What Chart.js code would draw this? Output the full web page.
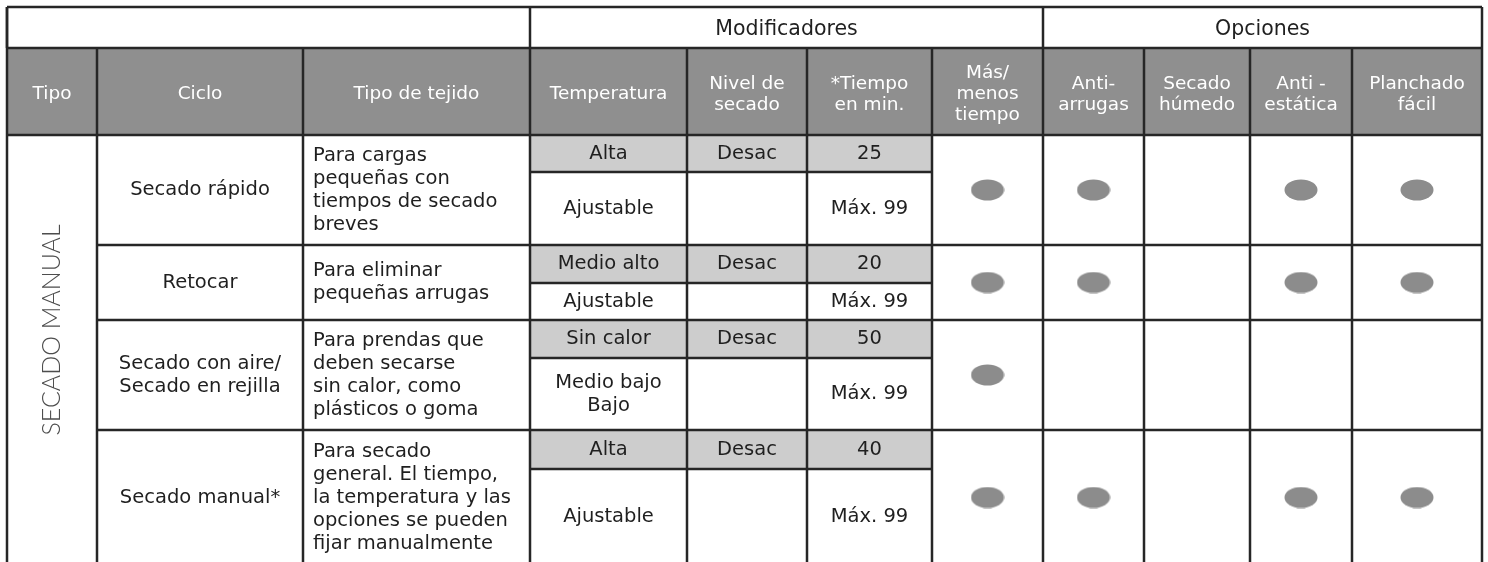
<!DOCTYPE html>
<html>
<head>
<meta charset="utf-8">
<title>Secado manual</title>
<script src="https://cdn.jsdelivr.net/npm/chart.js@4"></script>
<style>
html, body { margin: 0; padding: 0; background: #fff; }
</style>
</head>
<body>
<canvas id="tabla" width="1488" height="562"></canvas>
<script>
// Datos de la tabla
const grupos = ['', 'Modificadores', 'Opciones'];
const encabezados = ['Tipo', 'Ciclo', 'Tipo de tejido', 'Temperatura', 'Nivel de\nsecado',
    '*Tiempo\nen min.', 'Más/\nmenos\ntiempo', 'Anti-\narrugas', 'Secado\nhúmedo', 'Anti -\nestática', 'Planchado\nfácil'];
const tipo = 'SECADO MANUAL';
const ciclos = ['Secado rápido', 'Retocar', 'Secado con aire/\nSecado en rejilla', 'Secado manual*'];
const tejidos = [
    'Para cargas\npequeñas con\ntiempos de secado\nbreves',
    'Para eliminar\npequeñas arrugas',
    'Para prendas que\ndeben secarse\nsin calor, como\nplásticos o goma',
    'Para secado\ngeneral. El tiempo,\nla temperatura y las\nopciones se pueden\nfijar manualmente'
];
const tempPredet = ['Alta', 'Medio alto', 'Sin calor', 'Alta'];
const tempAjuste = ['Ajustable', 'Ajustable', 'Medio bajo\nBajo', 'Ajustable'];
const nivelPredet = ['Desac', 'Desac', 'Desac', 'Desac'];
const tiempoPredet = [25, 20, 50, 40];
const tiempoMax = [99, 99, 99, 99];

// Opciones disponibles por ciclo (1 = punto)
const masMenos = [1, 1, 1, 1];
const antiArrugas = [1, 1, 0, 1];
const secadoHumedo = [0, 0, 0, 0];
const antiEstatica = [1, 1, 0, 1];
const planchado = [1, 1, 0, 1];

// Distribucion de la rejilla (unidades de escala)
const anchos = [90, 206, 227, 157, 120, 125, 111, 101, 106, 102, 130];
const altos = [41, 87, 37, 73, 38, 37, 38, 72, 39, 96];
const spanGrupos = [[0, 3], [3, 7], [7, 11]];
const visible = 555;
const tipoCentro = 323;

const bordesX = [0];
anchos.forEach(w => bordesX.push(bordesX[bordesX.length - 1] + w));
const bordesY = [0];
altos.forEach(h => bordesY.push(bordesY[bordesY.length - 1] + h));

const colCentro = c => (bordesX[c] + bordesX[c + 1]) / 2;
// fila de ciclo i ocupa las subfilas 2+2i (gris) y 3+2i (blanca)
const filaIni = i => bordesY[2 + 2 * i];
const filaMed = i => bordesY[3 + 2 * i];
const filaFin = i => bordesY[4 + 2 * i];

// Marca eliptica para los puntos
const marca = document.createElement('canvas');
marca.width = 34;
marca.height = 22;
const mctx = marca.getContext('2d');
mctx.fillStyle = '#8c8c8c';
mctx.beginPath();
mctx.ellipse(17, 11, 16.5, 10.5, 0, 0, Math.PI * 2);
mctx.fill();

const columnasPunto = [
    { col: 6, valores: masMenos },
    { col: 7, valores: antiArrugas },
    { col: 8, valores: secadoHumedo },
    { col: 9, valores: antiEstatica },
    { col: 10, valores: planchado }
];

const datasets = columnasPunto.map(c => ({
    data: c.valores
        .map((v, i) => v ? { x: colCentro(c.col), y: (filaIni(i) + filaFin(i)) / 2 } : null)
        .filter(p => p),
    pointStyle: marca,
    pointRadius: 12,
    pointHoverRadius: 12
}));

const FUENTE = "'DejaVu Sans', sans-serif";

function textoLineas(ctx, texto, x, y, alto, align) {
    const lineas = String(texto).split('\n');
    ctx.textAlign = align || 'center';
    ctx.textBaseline = 'middle';
    const y0 = y - (lineas.length - 1) * alto / 2;
    lineas.forEach((l, k) => ctx.fillText(l, x, y0 + k * alto));
}

const tablaPlugin = {
    id: 'tabla',
    beforeDatasetsDraw(chart) {
        const ctx = chart.ctx;
        const sx = chart.scales.x, sy = chart.scales.y;
        const X = v => sx.getPixelForValue(v);
        const Y = v => sy.getPixelForValue(v);
        const fin = bordesX[bordesX.length - 1];
        const abajo = bordesY[bordesY.length - 1];

        ctx.save();

        // Fondo de encabezados
        ctx.fillStyle = '#8f8f8f';
        ctx.fillRect(X(0), Y(bordesY[1]), X(fin) - X(0), Y(bordesY[2]) - Y(bordesY[1]));

        // Subfilas grises con valores predeterminados
        ctx.fillStyle = '#cdcdcd';
        for (let i = 0; i < ciclos.length; i++) {
            ctx.fillRect(X(bordesX[3]), Y(filaIni(i)), X(bordesX[6]) - X(bordesX[3]), Y(filaMed(i)) - Y(filaIni(i)));
        }

        // Lineas
        ctx.strokeStyle = '#262626';
        ctx.lineWidth = 2.5;
        const linea = (x1, y1, x2, y2) => {
            ctx.beginPath();
            ctx.moveTo(X(x1), Y(y1));
            ctx.lineTo(X(x2), Y(y2));
            ctx.stroke();
        };
        linea(0, 0, fin, 0);
        linea(0, bordesY[1], fin, bordesY[1]);
        linea(0, bordesY[2], fin, bordesY[2]);
        linea(0, 0, 0, abajo);
        linea(fin, 0, fin, abajo);
        spanGrupos.forEach(g => linea(bordesX[g[0]], 0, bordesX[g[0]], bordesY[1]));
        for (let c = 1; c < bordesX.length - 1; c++) {
            linea(bordesX[c], bordesY[1], bordesX[c], abajo);
        }
        for (let i = 0; i < ciclos.length; i++) {
            if (i > 0) linea(bordesX[1], filaIni(i), fin, filaIni(i));
            linea(bordesX[3], filaMed(i), bordesX[6], filaMed(i));
        }

        // Titulos de grupo
        ctx.fillStyle = '#1f1f1f';
        ctx.font = '20.5px ' + FUENTE;
        spanGrupos.forEach((g, k) => {
            if (grupos[k]) {
                textoLineas(ctx, grupos[k], (X(bordesX[g[0]]) + X(bordesX[g[1]])) / 2,
                    (Y(bordesY[0]) + Y(bordesY[1])) / 2 + 2, 22);
            }
        });

        // Encabezados de columna
        ctx.fillStyle = '#ffffff';
        ctx.font = '18.5px ' + FUENTE;
        encabezados.forEach((t, c) => {
            textoLineas(ctx, t, X(colCentro(c)), (Y(bordesY[1]) + Y(bordesY[2])) / 2 + 3, 21);
        });

        // Tipo (vertical)
        ctx.save();
        ctx.translate(X(colCentro(0)), Y(tipoCentro));
        ctx.rotate(-Math.PI / 2);
        ctx.fillStyle = '#4d4d4d';
        ctx.font = '300 25px Lato, ' + FUENTE;
        textoLineas(ctx, tipo, 0, 0, 25);
        ctx.restore();

        // Cuerpo
        ctx.fillStyle = '#1f1f1f';
        ctx.font = '19.5px ' + FUENTE;
        for (let i = 0; i < ciclos.length; i++) {
            const yFila = (Y(filaIni(i)) + Y(filaFin(i))) / 2;
            const yGris = (Y(filaIni(i)) + Y(filaMed(i))) / 2;
            const yBlanca = (Y(filaMed(i)) + Y(filaFin(i))) / 2;
            textoLineas(ctx, ciclos[i], X(colCentro(1)), yFila, 23);
            textoLineas(ctx, tejidos[i], X(bordesX[2]) + 10, yFila, 23, 'left');
            textoLineas(ctx, tempPredet[i], X(colCentro(3)), yGris, 23);
            textoLineas(ctx, nivelPredet[i], X(colCentro(4)), yGris, 23);
            textoLineas(ctx, tiempoPredet[i], X(colCentro(5)), yGris, 23);
            textoLineas(ctx, tempAjuste[i], X(colCentro(3)), yBlanca, 23);
            textoLineas(ctx, 'Máx. ' + tiempoMax[i], X(colCentro(5)), yBlanca, 23);
        }

        ctx.restore();
    }
};

new Chart(document.getElementById('tabla'), {
    type: 'scatter',
    data: { datasets: datasets },
    options: {
        responsive: false,
        animation: false,
        devicePixelRatio: 1,
        layout: { autoPadding: false, padding: { left: 7, right: 6, top: 7, bottom: 0 } },
        scales: {
            x: { type: 'linear', min: 0, max: bordesX[bordesX.length - 1], display: false },
            y: { type: 'linear', min: 0, max: visible, reverse: true, display: false }
        },
        plugins: {
            legend: { display: false },
            tooltip: { enabled: false }
        }
    },
    plugins: [tablaPlugin]
});
</script>
</body>
</html>
